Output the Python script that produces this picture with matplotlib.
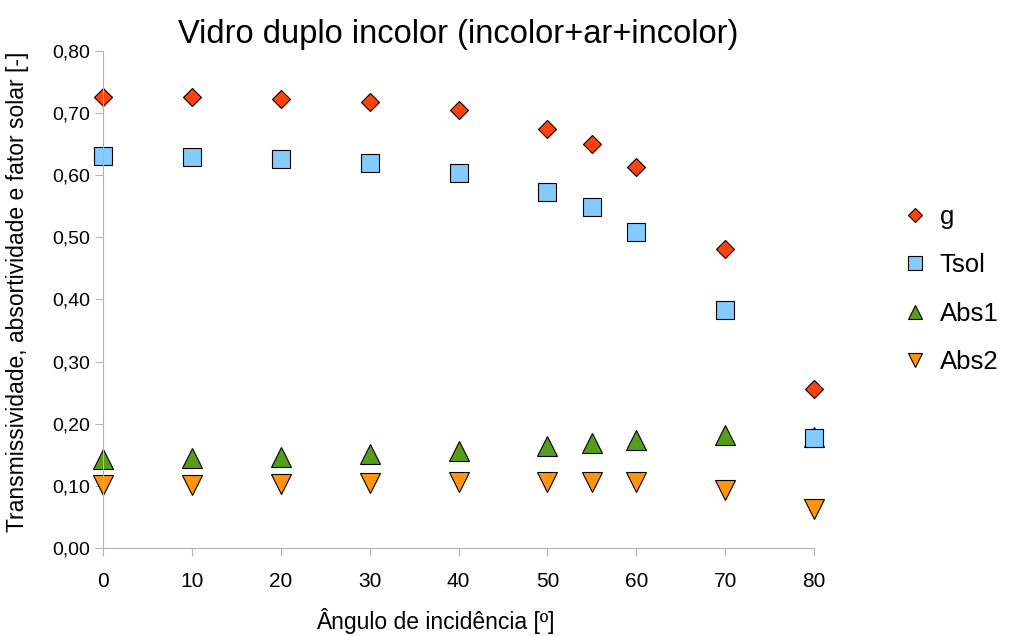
import numpy as np
import matplotlib.pyplot as plt

plt.rcParams['font.family'] = ['Liberation Sans', 'DejaVu Sans']

angulo = [0, 10, 20, 30, 40, 50, 55, 60, 70, 80]
g = [0.726, 0.726, 0.723, 0.718, 0.705, 0.675, 0.651, 0.614, 0.481, 0.256]
tsol = [0.631, 0.630, 0.626, 0.620, 0.604, 0.573, 0.549, 0.509, 0.383, 0.177]
abs1 = [0.143, 0.145, 0.147, 0.151, 0.156, 0.164, 0.169, 0.174, 0.182, 0.178]
abs2 = [0.101, 0.101, 0.103, 0.105, 0.106, 0.106, 0.107, 0.106, 0.093, 0.063]

fig = plt.figure(figsize=(10.13, 6.36), dpi=100)
ax = fig.add_axes([0.1017, 0.1384, 0.7019, 0.7814])

# Abs series first so Tsol covers Abs1 at 80
h3, = ax.plot(angulo, abs1, '^', color='#579d1c', mec='black', mew=0.8, ms=14, clip_on=False, label='Abs1')
h4, = ax.plot(angulo, abs2, 'v', color='#ff950e', mec='black', mew=0.8, ms=14, clip_on=False, label='Abs2')
h2, = ax.plot(angulo, tsol, 's', color='#83caff', mec='black', mew=0.8, ms=13.5, clip_on=False, label='Tsol')
h1, = ax.plot(angulo, g, 'D', color='#ff420e', mec='black', mew=0.8, ms=9.5, clip_on=False, label='g')

ax.set_xlim(0, 80)
ax.set_ylim(0, 0.8)
ax.set_xticks(range(0, 81, 10))
ax.set_yticks(np.arange(0, 0.81, 0.1))
ax.set_yticklabels([f'{v:.2f}'.replace('.', ',') for v in np.arange(0, 0.81, 0.1)])

for s in ['top', 'right']:
    ax.spines[s].set_visible(False)
for s in ['left', 'bottom']:
    ax.spines[s].set_color('#b3b3b3')
ax.tick_params(colors='#b3b3b3', labelcolor='black', length=6)
ax.tick_params(axis='y', labelsize=14)
ax.tick_params(axis='x', labelsize=15, pad=11)

ax.set_title('Vidro duplo incolor (incolor+ar+incolor)', fontsize=23.5, pad=6)
ax.set_xlabel('Ângulo de incidência [º]', fontsize=16.5)
ax.xaxis.set_label_coords(0.467, -0.12)
ax.set_ylabel('Transmissividade, absortividade e fator solar [-]', fontsize=16.5)
ax.yaxis.set_label_coords(-0.104, 0.515)

fig.legend(handles=[h1, h2, h3, h4], loc='center left', bbox_to_anchor=(0.891, 0.545),
           frameon=False, fontsize=18.5, markerscale=0.75, handlelength=0.95,
           handletextpad=0.5, labelspacing=0.95, borderpad=0, borderaxespad=0)

fig.savefig('out.png', dpi=100)
